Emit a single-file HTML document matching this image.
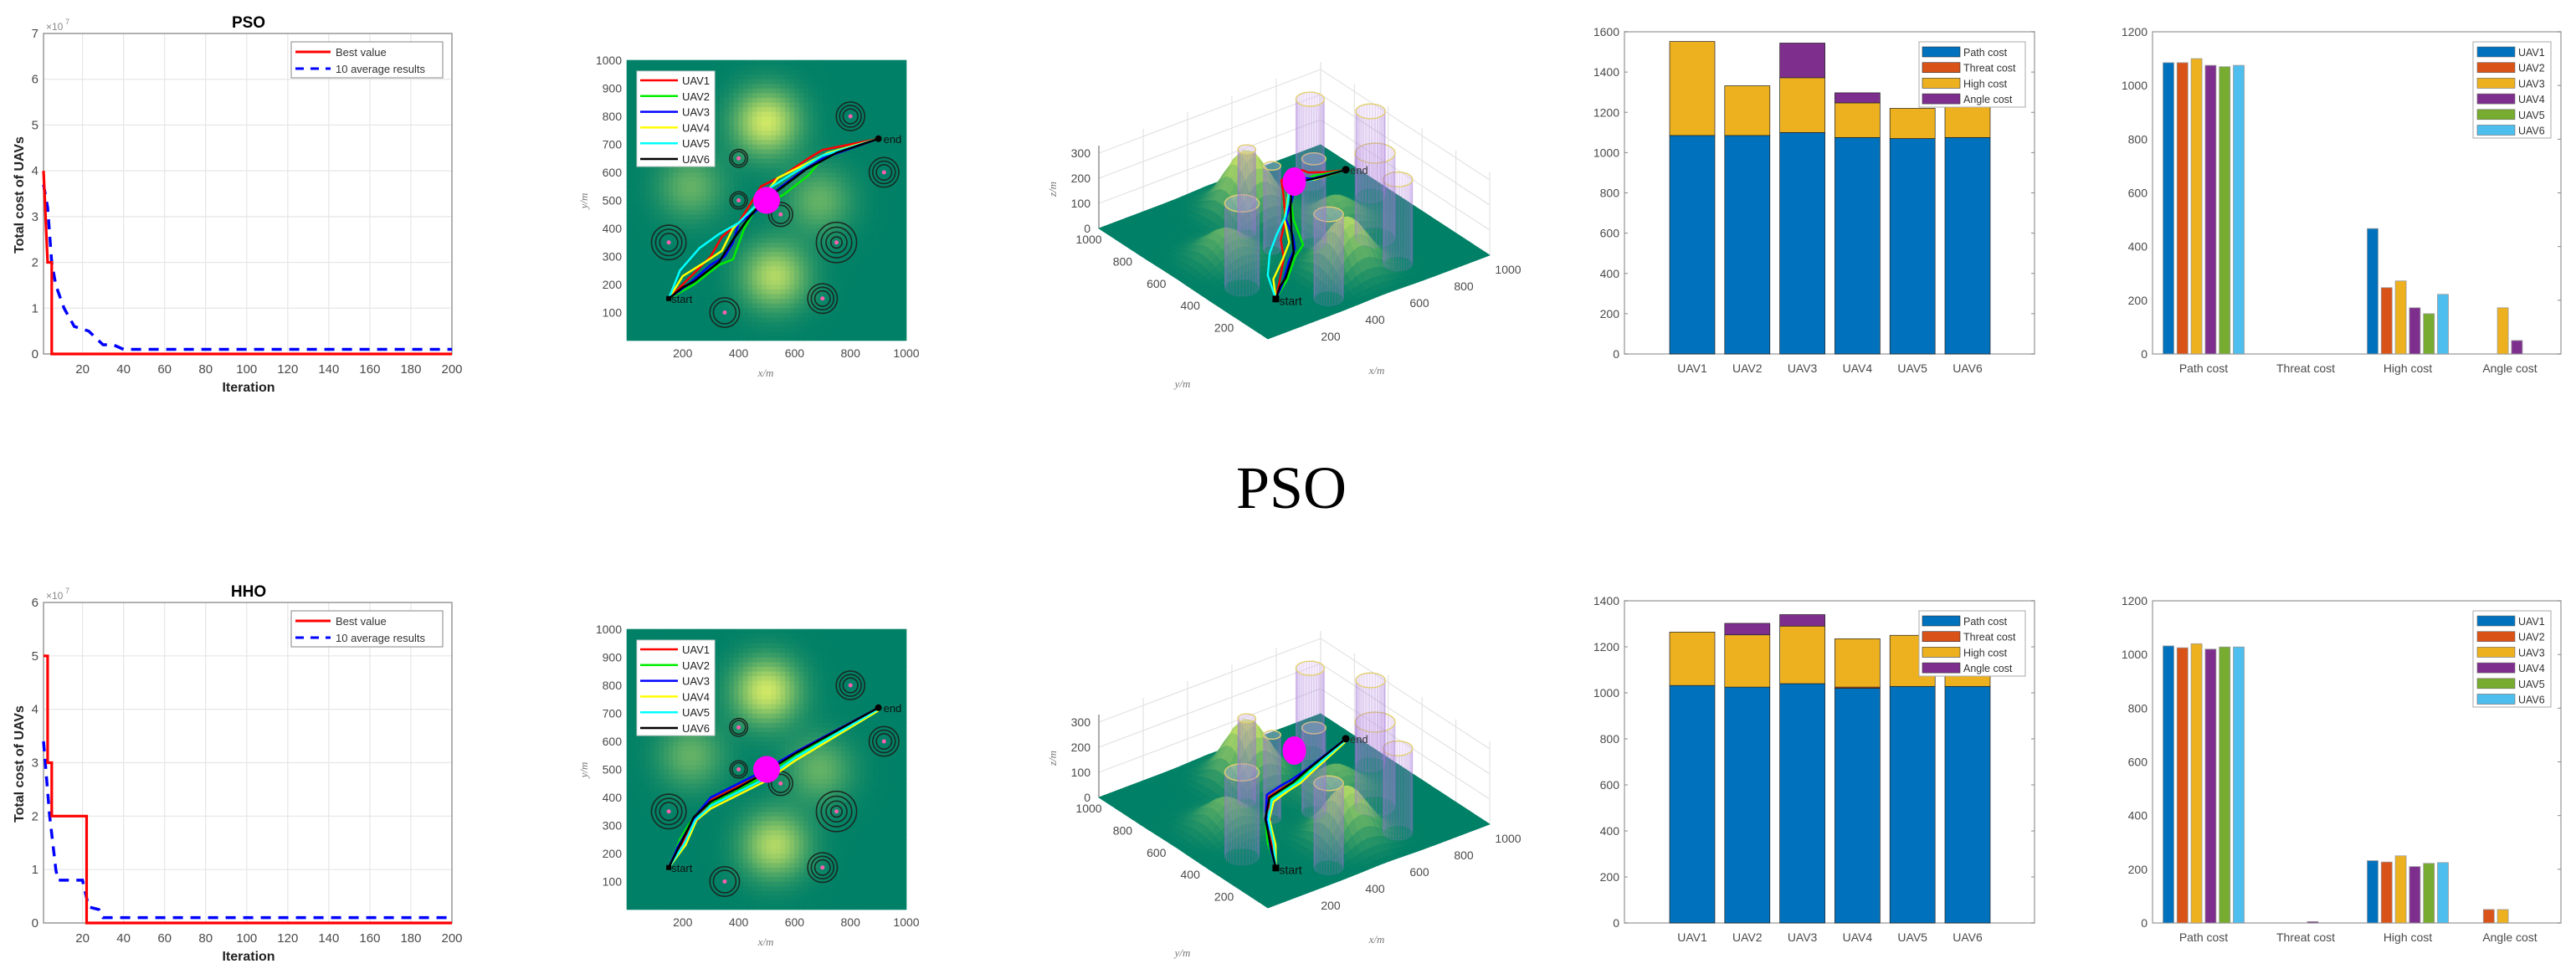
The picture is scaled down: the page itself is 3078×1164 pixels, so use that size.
<!DOCTYPE html>
<html><head><meta charset="utf-8">
<style>
html,body{margin:0;padding:0;background:#fff;}
svg{display:block;font-family:"Liberation Sans",sans-serif;}
</style></head>
<body>
<svg id="fig" width="3078" height="1164" viewBox="0 0 3078 1164" xmlns="http://www.w3.org/2000/svg">
<text x="1543" y="607" font-family="Liberation Serif, serif" font-size="72" text-anchor="middle" fill="#000">PSO</text>
</svg>
<script>
// ---------- DATA ----------
const psoBestIter=[1,3,5,5,200];
const psoBestVal=[4,2,2,0,0];
const psoAvgIter=[1,3,5,7,11,16,23,30,35,40,200];
const psoAvgVal=[3.7,3.2,2.0,1.5,1.0,0.6,0.5,0.2,0.2,0.1,0.1];
const hhoBestIter=[1,3,3,5,5,22,22,200];
const hhoBestVal=[5,5,3,3,2,2,0,0];
const hhoAvgIter=[1,4,7,8,20,23,28,30,200];
const hhoAvgVal=[3.4,2.0,1.0,0.8,0.8,0.3,0.25,0.1,0.1];

const hillX=[500,530,230,690];
const hillY=[780,230,550,500];
const hillH=[240,205,115,115];
const threatX=[150,350,400,400,550,700,750,800,920];
const threatY=[350,100,650,500,450,150,350,800,600];
const threatR=[62,53,32,31,43,53,72,51,53];
const threatRings=[3,2,2,2,2,3,4,3,3];

const uavNames=['UAV1','UAV2','UAV3','UAV4','UAV5','UAV6'];
const uavLineColors=['#ff0000','#00ee00','#0000ff','#ffff00','#00ffff','#000000'];
const pso1X=[150,220,300,340,400,450,480,560,650,700,800,900];
const pso1Y=[150,220,300,370,420,500,550,590,650,680,700,720];
const pso1Z=[43,60,90,120,160,210,230,220,170,130,90,57];
const pso2X=[150,240,330,380,420,460,560,650,700,800,900];
const pso2Y=[150,200,270,290,400,470,520,590,650,690,720];
const pso2Z=[43,70,100,120,160,200,220,170,130,90,57];
const pso3X=[150,220,300,350,380,400,460,540,620,700,900];
const pso3Y=[150,200,270,300,350,420,460,540,600,650,720];
const pso3Z=[43,60,90,110,130,160,200,230,170,120,57];
const pso4X=[150,200,280,340,380,460,540,620,720,900];
const pso4Y=[150,230,280,320,400,480,580,620,670,720];
const pso4Z=[43,70,100,130,170,220,200,150,100,57];
const pso5X=[150,190,260,330,400,450,520,600,700,900];
const pso5Y=[150,250,330,380,420,470,550,600,660,720];
const pso5Z=[43,80,110,140,170,200,210,160,110,57];
const pso6X=[150,200,240,330,380,430,480,560,640,750,900];
const pso6Y=[150,190,210,280,360,430,490,550,610,670,720];
const pso6Z=[43,60,70,110,150,190,230,200,150,100,57];
const hho1X=[150,200,230,260,300,400,480,600,900];
const hho1Y=[150,240,290,330,390,440,480,560,720];
const hho1Z=[43,80,120,150,170,150,130,100,57];
const hho2X=[150,190,220,250,300,400,480,600,900];
const hho2Y=[150,250,300,340,380,430,470,550,720];
const hho2Z=[43,85,125,155,170,150,130,100,57];
const hho3X=[150,180,220,250,300,400,480,600,900];
const hho3Y=[150,220,290,340,400,450,490,560,720];
const hho3Z=[43,75,120,150,175,155,135,105,57];
const hho4X=[150,210,250,300,400,500,600,900];
const hho4Y=[150,230,320,360,410,460,530,710];
const hho4Z=[43,80,130,165,150,130,105,57];
const hho5X=[150,205,245,300,400,500,600,900];
const hho5Y=[150,235,320,370,420,470,540,715];
const hho5Z=[43,80,130,168,150,130,105,57];
const hho6X=[150,195,240,300,400,480,600,900];
const hho6Y=[150,240,330,385,435,480,555,720];
const hho6Z=[43,80,130,170,150,130,105,57];

const costNames=['Path cost','Threat cost','High cost','Angle cost'];
const costColors=['#0072BD','#D95319','#EDB120','#7E2F8E'];
const barUavColors=['#0072BD','#D95319','#EDB120','#7E2F8E','#77AC30','#4DBEEE'];
const psoPath=[1085,1085,1100,1075,1070,1075];
const psoThreat=[0,0,0,0,0,0];
const psoHigh=[467,247,272,172,150,222];
const psoAngle=[0,0,172,50,0,0];
const hhoPath=[1032,1025,1040,1020,1028,1028];
const hhoThreat=[0,0,0,5,0,0];
const hhoHigh=[232,227,250,210,222,225];
const hhoAngle=[0,50,50,0,0,0];
const stackTicksPso=[0,200,400,600,800,1000,1200,1400,1600];
const stackTicksHho=[0,200,400,600,800,1000,1200,1400];
const groupTicks=[0,200,400,600,800,1000,1200];

// ---------- HELPERS ----------
const NS='http://www.w3.org/2000/svg';
const svg=document.getElementById('fig');
function mk(tag,attrs,parent){const e=document.createElementNS(NS,tag);for(const k in attrs)e.setAttribute(k,attrs[k]);(parent||svg).appendChild(e);return e;}
function tx(str,x,y,attrs,parent){const e=mk('text',Object.assign({x:x,y:y},attrs),parent);e.textContent=str;return e;}
const TICK='#4a4a4a';

// ---------- CONVERGENCE ----------
function convPanel(oy,title,ymax,bI,bV,aI,aV,key){
  const g=mk('g',{});
  
  
  const L=52,R=540,T=oy+40,B=oy+423;
  const xs=v=>L+(v-1)/199*(R-L);
  const ys=v=>B-v/ymax*(B-T);
  for(let v=20;v<=200;v+=20){
    const l=mk('line',{x1:xs(v),x2:xs(v),y1:T,y2:B,stroke:'#e6e6e6','stroke-width':1.2},g);
    
    
    const t=tx(String(v),xs(v),oy+446,{'font-size':15,fill:TICK,'text-anchor':'middle'},g);
    
    
  }
  for(let v=0;v<=ymax;v++){
    const l=mk('line',{x1:L,x2:R,y1:ys(v),y2:ys(v),stroke:'#e6e6e6','stroke-width':1.2},g);
    
    
    const t=tx(String(v),46,ys(v)+5,{'font-size':15,fill:TICK,'text-anchor':'end'},g);
    
    
  }
  const box=mk('rect',{x:L,y:T,width:R-L,height:B-T,fill:'none',stroke:'#999','stroke-width':1.5},g);
  
  
  const avg=mk('polyline',{points:aI.map((v,i)=>xs(v)+','+ys(aV[i])).join(' '),fill:'none',stroke:'#0000ff','stroke-width':3.5,'stroke-dasharray':'12,9'},g);
  
  
  const best=mk('polyline',{points:bI.map((v,i)=>xs(v)+','+ys(bV[i])).join(' '),fill:'none',stroke:'#ff0000','stroke-width':3.2},g);
  
  
  const tt=tx(title,297,oy+33,{'font-size':19,'font-weight':'bold','text-anchor':'middle',fill:'#000'},g);
  
  
  const ex=tx('×10',55,oy+36,{'font-size':12,fill:'#888'},g);
  
  
  const ex2=tx('7',78,oy+29,{'font-size':9,fill:'#888'},g);
  
  
  const yl=tx('Total cost of UAVs',0,0,{'font-size':16,'font-weight':'bold','text-anchor':'middle',fill:'#222',transform:'translate(28,'+(oy+233)+') rotate(-90)'},g);
  
  
  const xl=tx('Iteration',297,oy+468,{'font-size':16,'font-weight':'bold','text-anchor':'middle',fill:'#222'},g);
  
  
  const lg=mk('g',{},g);
  
  
  const lb=mk('rect',{x:348,y:oy+50,width:181,height:43,fill:'#fff',stroke:'#999','stroke-width':1.2},lg);
  
  
  const l1=mk('line',{x1:353,x2:395,y1:oy+62,y2:oy+62,stroke:'#ff0000','stroke-width':3},lg);
  
  
  const t1=tx('Best value',401,oy+67,{'font-size':13,fill:'#333'},lg);
  
  
  const l2=mk('line',{x1:353,x2:395,y1:oy+82,y2:oy+82,stroke:'#0000ff','stroke-width':3,'stroke-dasharray':'10,8'},lg);
  
  
  const t2=tx('10 average results',401,oy+87,{'font-size':13,fill:'#333'},lg);
  
  
}
convPanel(0,'PSO',7,psoBestIter,psoBestVal,psoAvgIter,psoAvgVal,'pso');
convPanel(680,'HHO',6,hhoBestIter,hhoBestVal,hhoAvgIter,hhoAvgVal,'hho');

// ---------- TERRAIN ----------
function height(x,y){let h=0;for(let i=0;i<hillX.length;i++){const dx=x-hillX[i],dy=y-hillY[i];h+=hillH[i]*Math.exp(-(dx*dx+dy*dy)/(115*115));}return h;}
function summer(h){const r=Math.min(1,Math.max(0,h/295));return 'rgb('+Math.round(255*r)+','+Math.round(128+127*r)+','+Math.round(102)+')';}

// ---------- 2D MAP ----------
function map2d(oy,PX,PY,key){
  const g=mk('g',{});
  
  
  const L=749,R=1083,T=oy+72,B=oy+407;
  const xs=v=>L+v/1000*(R-L);
  const ys=v=>B-v/1000*(B-T);
  const N=60,step=1000/N;
  const cg=mk('g',{},g);
  
  
  for(let i=0;i<N;i++)for(let j=0;j<N;j++){
    const c=mk('rect',{x:xs(i*step)-0.3,y:ys((j+1)*step)-0.3,width:(R-L)/N+0.6,height:(B-T)/N+0.6,fill:summer(height((i+0.5)*step,(j+0.5)*step))},cg);
    
    
  }
  for(let k=0;k<threatX.length;k++){
    const tg=mk('g',{},g);
    
    
    for(let r=0;r<threatRings[k];r++){
      const rr=threatR[k]*(1-0.24*r)*(R-L)/1000;
      const c=mk('circle',{cx:xs(threatX[k]),cy:ys(threatY[k]),r:rr,fill:'none',stroke:'#1a2a22','stroke-width':1.6},tg);
      
      
    }
    const d=mk('circle',{cx:xs(threatX[k]),cy:ys(threatY[k]),r:2.5,fill:'#ff5fb0'},tg);
    
    
  }
  for(let u=0;u<6;u++){
    const p=mk('polyline',{points:PX[u].map((v,i)=>xs(v)+','+ys(PY[u][i])).join(' '),fill:'none',stroke:uavLineColors[u],'stroke-width':2.5,'stroke-linejoin':'round'},g);
    
    
  }
  const ball=mk('circle',{cx:xs(500),cy:ys(500),r:16,fill:'#ff00ff'},g);
  
  
  const st=mk('rect',{x:xs(150)-3,y:ys(150)-3,width:6,height:6,fill:'#000'},g);
  
  
  const stt=tx('start',xs(150)+3,ys(150)+5,{'font-size':13,fill:'#111'},g);
  
  
  const en=mk('circle',{cx:xs(900),cy:ys(720),r:4,fill:'#000'},g);
  
  
  const ent=tx('end',xs(900)+6,ys(720)+5,{'font-size':13,fill:'#111'},g);
  
  
  for(let v=100;v<=1000;v+=100){
    const t=tx(String(v),743,ys(v)+5,{'font-size':14,fill:TICK,'text-anchor':'end'},g);
    
    
  }
  for(let v=200;v<=1000;v+=200){
    const t=tx(String(v),xs(v),oy+427,{'font-size':14,fill:TICK,'text-anchor':'middle'},g);
    
    
  }
  const xl=tx('x/m',915,oy+450,{'font-size':13,'font-style':'italic','font-family':'Liberation Serif, serif',fill:'#777','text-anchor':'middle'},g);
  
  
  const yl=tx('y/m',0,0,{'font-size':13,'font-style':'italic','font-family':'Liberation Serif, serif',fill:'#777','text-anchor':'middle',transform:'translate(702,'+(oy+240)+') rotate(-90)'},g);
  
  
  const lg=mk('g',{},g);
  
  
  const lb=mk('rect',{x:761,y:oy+85,width:93,height:114,fill:'#fff',stroke:'#ccc'},lg);
  
  
  for(let u=0;u<6;u++){
    const yy=oy+96+u*18.8;
    const s=mk('line',{x1:765,x2:810,y1:yy,y2:yy,stroke:uavLineColors[u],'stroke-width':2.5},lg);
    
    
    const t=tx(uavNames[u],815,yy+5,{'font-size':13,fill:'#222'},lg);
    
    
  }
}
map2d(0,[pso1X,pso2X,pso3X,pso4X,pso5X,pso6X],[pso1Y,pso2Y,pso3Y,pso4Y,pso5Y,pso6Y],'pso');
map2d(680,[hho1X,hho2X,hho3X,hho4X,hho5X,hho6X],[hho1Y,hho2Y,hho3Y,hho4Y,hho5Y,hho6Y],'hho');

// ---------- 3D ----------
function map3d(oy,PX,PY,PZ,key){
  const P=(x,y,z)=>[1515+0.265*x-0.202*y, oy+405-0.1*x-0.132*y-0.3*z];
  const pt=(x,y,z)=>{const p=P(x,y,z);return p[0].toFixed(1)+','+p[1].toFixed(1);};
  const g=mk('g',{});
  
  
  const ZT=330;
  for(let v=0;v<=1000;v+=200){
    const a=mk('line',{x1:P(v,1000,0)[0],y1:P(v,1000,0)[1],x2:P(v,1000,ZT)[0],y2:P(v,1000,ZT)[1],stroke:'#e3e3e3','stroke-width':1.2},g);
    
    
    const b=mk('line',{x1:P(1000,v,0)[0],y1:P(1000,v,0)[1],x2:P(1000,v,ZT)[0],y2:P(1000,v,ZT)[1],stroke:'#e3e3e3','stroke-width':1.2},g);
    
    
  }
  for(let z=0;z<=300;z+=100){
    const a=mk('polyline',{points:pt(0,1000,z)+' '+pt(1000,1000,z)+' '+pt(1000,0,z),fill:'none',stroke:'#e3e3e3','stroke-width':1.2},g);
    
    
  }
  const ax=mk('line',{x1:P(0,1000,0)[0],y1:P(0,1000,0)[1],x2:P(0,1000,ZT)[0],y2:P(0,1000,ZT)[1],stroke:'#777','stroke-width':1.2},g);
  
  
  for(let z=0;z<=300;z+=100){
    const p=P(0,1000,z);
    const t=tx(String(z),p[0]-10,p[1]+5,{'font-size':14,fill:TICK,'text-anchor':'end'},g);
    
    
  }
  const tg=mk('g',{},g);
  
  
  const N=40,s=1000/N;const cells=[];
  for(let i=0;i<N;i++)for(let j=0;j<N;j++)cells.push([i,j]);
  cells.sort((a,b)=>(b[0]+b[1])-(a[0]+a[1]));
  for(const [i,j] of cells){
    const x0=i*s,x1=(i+1)*s,y0=j*s,y1=(j+1)*s;
    const col=summer(height(x0+s/2,y0+s/2));
    const q=mk('polygon',{points:[pt(x0,y0,height(x0,y0)),pt(x1,y0,height(x1,y0)),pt(x1,y1,height(x1,y1)),pt(x0,y1,height(x0,y1))].join(' '),fill:col,stroke:col,'stroke-width':0.8},tg);
    
    
  }
  const H=336,M=32;
  for(let k=0;k<threatX.length;k++){
    const cg=mk('g',{},g);
    
    
    const r=threatR[k];
    for(let m=0;m<M;m++){
      const a0=2*Math.PI*m/M,a1=2*Math.PI*(m+1)/M;
      const xa=threatX[k]+r*Math.cos(a0),ya=threatY[k]+r*Math.sin(a0),xb=threatX[k]+r*Math.cos(a1),yb=threatY[k]+r*Math.sin(a1);
      const q=mk('polygon',{points:[pt(xa,ya,0),pt(xb,yb,0),pt(xb,yb,H),pt(xa,ya,H)].join(' '),fill:'rgba(200,150,235,0.09)',stroke:'rgba(160,115,215,0.2)','stroke-width':0.7},cg);
      
      
    }
    const top=[];for(let m=0;m<M;m++){const a=2*Math.PI*m/M;top.push(pt(threatX[k]+r*Math.cos(a),threatY[k]+r*Math.sin(a),H));}
    const tp=mk('polygon',{points:top.join(' '),fill:'rgba(240,220,250,0.25)',stroke:'#e2d070','stroke-width':1.4},cg);
    
    
  }
  for(let u=0;u<6;u++){
    const p=mk('polyline',{points:PX[u].map((v,i)=>pt(v,PY[u][i],PZ[u][i])).join(' '),fill:'none',stroke:uavLineColors[u],'stroke-width':2.4,'stroke-linejoin':'round'},g);
    
    
  }
  const bc=P(500,500,240);
  const ball=mk('ellipse',{cx:bc[0],cy:bc[1],rx:14,ry:17,fill:'#ff00ff'},g);
  
  
  const sp=P(150,150,43);
  const st=mk('rect',{x:sp[0]-4,y:sp[1]-4,width:8,height:8,fill:'#000'},g);
  
  
  const stt=tx('start',sp[0]+4,sp[1]+7,{'font-size':14,fill:'#111'},g);
  
  
  const ep=P(900,720,57);
  const en=mk('circle',{cx:ep[0],cy:ep[1],r:4.5,fill:'#000'},g);
  
  
  const ent=tx('end',ep[0]+5,ep[1]+5,{'font-size':13,fill:'#333'},g);
  
  
  for(let v=200;v<=1000;v+=200){
    const py=P(0,v,0);
    const t=tx(String(v),py[0]-12,py[1]+18,{'font-size':14,fill:TICK,'text-anchor':'middle'},g);
    
    
    const px=P(v,0,0);
    const t2=tx(String(v),px[0]+22,px[1]+22,{'font-size':14,fill:TICK,'text-anchor':'middle'},g);
    
    
  }
  const xl=tx('x/m',1645,oy+447,{'font-size':13,'font-style':'italic','font-family':'Liberation Serif, serif',fill:'#777','text-anchor':'middle'},g);
  
  
  const yl=tx('y/m',1413,oy+463,{'font-size':13,'font-style':'italic','font-family':'Liberation Serif, serif',fill:'#777','text-anchor':'middle'},g);
  
  
  const zl=tx('z/m',0,0,{'font-size':13,'font-style':'italic','font-family':'Liberation Serif, serif',fill:'#777','text-anchor':'middle',transform:'translate(1262,'+(oy+226)+') rotate(-90)'},g);
  
  
}
map3d(0,[pso1X,pso2X,pso3X,pso4X,pso5X,pso6X],[pso1Y,pso2Y,pso3Y,pso4Y,pso5Y,pso6Y],[pso1Z,pso2Z,pso3Z,pso4Z,pso5Z,pso6Z],'pso');
map3d(680,[hho1X,hho2X,hho3X,hho4X,hho5X,hho6X],[hho1Y,hho2Y,hho3Y,hho4Y,hho5Y,hho6Y],[hho1Z,hho2Z,hho3Z,hho4Z,hho5Z,hho6Z],'hho');

// ---------- STACKED BARS ----------
function stacked(oy,series,ticks,key){
  const g=mk('g',{});
  
  
  const L=1941,R=2431,T=oy+38,B=oy+423,ymax=ticks[ticks.length-1];
  const ys=v=>B-v/ymax*(B-T);
  const xs=i=>2022+i*65.8;
  const box=mk('rect',{x:L,y:T,width:R-L,height:B-T,fill:'none',stroke:'#aaa','stroke-width':1.5},g);
  
  
  for(const v of ticks){
    const t=tx(String(v),1935,ys(v)+5,{'font-size':14,fill:TICK,'text-anchor':'end'},g);
    
    
    const k1=mk('line',{x1:L,x2:L+4,y1:ys(v),y2:ys(v),stroke:'#888'},g);
    
    
    const k2=mk('line',{x1:R-4,x2:R,y1:ys(v),y2:ys(v),stroke:'#888'},g);
    
    
  }
  for(let i=0;i<6;i++){
    let base=0;
    for(let s=0;s<4;s++){
      const v=series[s][i];
      if(v>0){
        const r=mk('rect',{x:xs(i)-27,y:ys(base+v),width:54,height:ys(base)-ys(base+v),fill:costColors[s],stroke:'#222','stroke-width':0.7},g);
        
        
      }
      base+=v;
    }
    const t=tx(uavNames[i],xs(i),oy+445,{'font-size':14,fill:TICK,'text-anchor':'middle'},g);
    
    
  }
  const lg=mk('g',{},g);
  
  
  const lb=mk('rect',{x:2293,y:oy+50,width:127,height:78,fill:'#fff',stroke:'#aaa'},lg);
  
  
  for(let s=0;s<4;s++){
    const yy=oy+62+s*18.7;
    const sw=mk('rect',{x:2297,y:yy-6,width:45,height:12,fill:costColors[s],stroke:'#333','stroke-width':0.6},lg);
    
    
    const t=tx(costNames[s],2346,yy+5,{'font-size':12.5,fill:'#333'},lg);
    
    
  }
}
stacked(0,[psoPath,psoThreat,psoHigh,psoAngle],stackTicksPso,'pso');
stacked(680,[hhoPath,hhoThreat,hhoHigh,hhoAngle],stackTicksHho,'hho');

// ---------- GROUPED BARS ----------
function grouped(oy,series,key){
  const g=mk('g',{});
  
  
  const L=2572,R=3060,T=oy+38,B=oy+423,ymax=groupTicks[groupTicks.length-1];
  const ys=v=>B-v/ymax*(B-T);
  const xs=i=>2633+i*122;
  const box=mk('rect',{x:L,y:T,width:R-L,height:B-T,fill:'none',stroke:'#aaa','stroke-width':1.5},g);
  
  
  for(const v of groupTicks){
    const t=tx(String(v),2566,ys(v)+5,{'font-size':14,fill:TICK,'text-anchor':'end'},g);
    
    
    const k=mk('line',{x1:R-4,x2:R,y1:ys(v),y2:ys(v),stroke:'#888'},g);
    
    
  }
  for(let c=0;c<4;c++){
    for(let u=0;u<6;u++){
      const v=series[c][u];
      if(v>0){
        const r=mk('rect',{x:xs(c)+(u-2.5)*16.8-6.5,y:ys(v),width:13,height:B-ys(v),fill:barUavColors[u],stroke:'#999','stroke-width':0.8},g);
        
        
      }
    }
    const t=tx(costNames[c],xs(c),oy+445,{'font-size':14,fill:TICK,'text-anchor':'middle'},g);
    
    
  }
  const lg=mk('g',{},g);
  
  
  const lb=mk('rect',{x:2955,y:oy+50,width:93,height:115,fill:'#fff',stroke:'#aaa'},lg);
  
  
  for(let u=0;u<6;u++){
    const yy=oy+62+u*18.7;
    const sw=mk('rect',{x:2960,y:yy-6,width:45,height:12,fill:barUavColors[u],stroke:'#666','stroke-width':0.6},lg);
    
    
    const t=tx(uavNames[u],3009,yy+5,{'font-size':12.5,fill:'#333'},lg);
    
    
  }
}
grouped(0,[psoPath,psoThreat,psoHigh,psoAngle],'pso');
grouped(680,[hhoPath,hhoThreat,hhoHigh,hhoAngle],'hho');
</script>
</body></html>
